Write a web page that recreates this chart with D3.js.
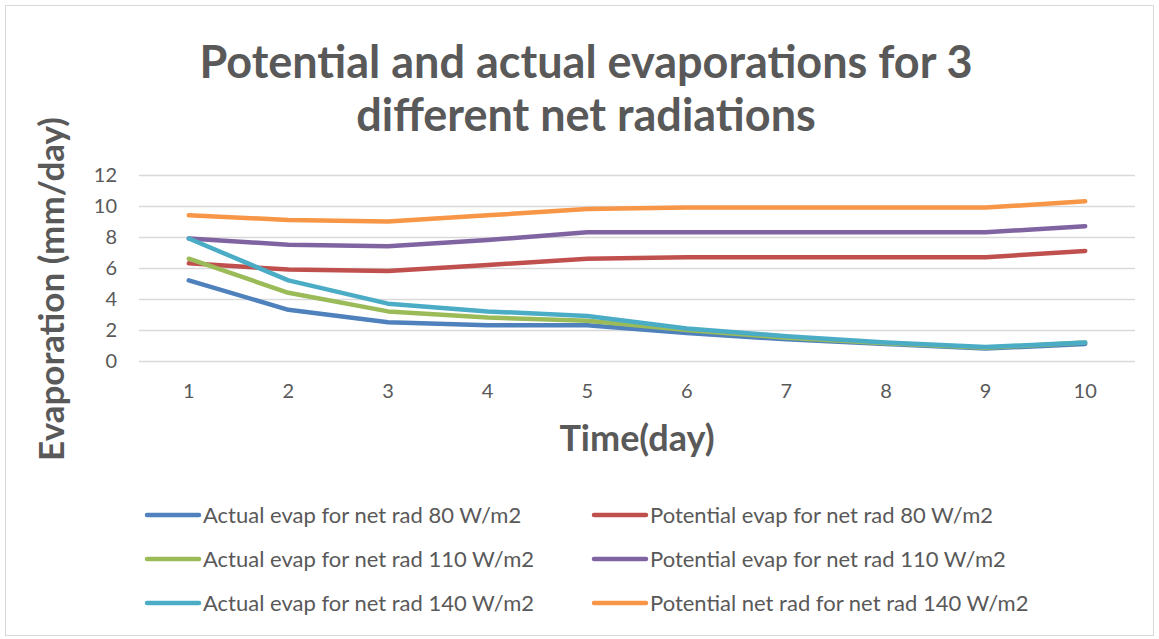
<!DOCTYPE html>
<html>
<head>
<meta charset="utf-8">
<script src="https://cdn.jsdelivr.net/npm/d3@7"></script>
<style>
  body { margin: 0; background: #fff; }
  text { font-family: Lato, "Open Sans", sans-serif; fill: #595959; }
</style>
</head>
<body>
<svg width="1159" height="639"></svg>
<script>
var svg = d3.select('svg');

// Data
var days = [1, 2, 3, 4, 5, 6, 7, 8, 9, 10];
var yTicks = [0, 2, 4, 6, 8, 10, 12];
var seriesNames = [
    'Actual evap for net rad 80 W/m2',
    'Potential evap for net rad 80 W/m2',
    'Actual evap for net rad 110 W/m2',
    'Potential evap for net rad 110 W/m2',
    'Actual evap for net rad 140 W/m2',
    'Potential net rad for net rad 140 W/m2'
];
var actual80 = [5.2, 3.3, 2.5, 2.3, 2.3, 1.8, 1.4, 1.1, 0.8, 1.1];
var potential80 = [6.3, 5.9, 5.8, 6.2, 6.6, 6.7, 6.7, 6.7, 6.7, 7.1];
var actual110 = [6.6, 4.4, 3.2, 2.8, 2.6, 2.0, 1.5, 1.15, 0.85, 1.2];
var potential110 = [7.9, 7.5, 7.4, 7.8, 8.3, 8.3, 8.3, 8.3, 8.3, 8.7];
var actual140 = [7.9, 5.2, 3.7, 3.2, 2.9, 2.1, 1.6, 1.2, 0.9, 1.2];
var potential140 = [9.4, 9.1, 9.0, 9.4, 9.8, 9.9, 9.9, 9.9, 9.9, 10.3];
var seriesValues = [actual80, potential80, actual110, potential110, actual140, potential140];
var colors = ['#4f81bd', '#c0504d', '#9bbb59', '#8064a2', '#4bacc6', '#f79646'];

// Layout
var plot = {l: 139, r: 1135, t: 175, b: 361};

// chart border
svg.append('rect')
    .attr('x', 5.5).attr('y', 5.5)
    .attr('width', 1148).attr('height', 630)
    .attr('fill', '#fff')
    .attr('stroke', '#d9d9d9');

var xScale = d3.scaleBand().domain(days).range([plot.l, plot.r]);
var yScale = d3.scaleLinear().domain([0, 12]).range([plot.b, plot.t]);

// gridlines
var yAxis = d3.axisLeft(yScale).tickValues(yTicks)
    .tickSize(-(plot.r - plot.l)).tickPadding(22);
var yG = svg.append('g')
    .attr('transform', 'translate(' + plot.l + ',0)')
    .call(yAxis);
yG.select('.domain').remove();
yG.selectAll('line').attr('stroke', '#d9d9d9').attr('stroke-width', 1.3);
yG.selectAll('text').style('font-size', '20px').attr('fill', '#595959');

var xAxis = d3.axisBottom(xScale).tickSize(0).tickPadding(23);
var xG = svg.append('g')
    .attr('transform', 'translate(0,' + plot.b + ')')
    .call(xAxis);
xG.select('.domain').remove();
xG.selectAll('text').style('font-size', '20px').attr('fill', '#595959');

// lines
var line = d3.line()
    .x(function(d, i) { return xScale(days[i]) + xScale.bandwidth() / 2; })
    .y(function(d) { return yScale(d); });

svg.selectAll('.series')
    .data(seriesValues)
    .enter()
    .append('path')
    .attr('class', 'series')
    .attr('d', line)
    .attr('fill', 'none')
    .attr('stroke', function(d, i) { return colors[i]; })
    .attr('stroke-width', 4.5)
    .attr('stroke-linecap', 'round')
    .attr('stroke-linejoin', 'round');

// title
var title = svg.append('text')
    .attr('text-anchor', 'middle')
    .style('font-size', '45px')
    .style('font-weight', 'bold');
title.append('tspan').attr('x', 586).attr('y', 78).text('Potential and actual evaporations for 3');
title.append('tspan').attr('x', 586).attr('y', 131).text('different net radiations');

// axis titles
svg.append('text')
    .attr('x', 637).attr('y', 451)
    .attr('text-anchor', 'middle')
    .style('font-size', '36px')
    .style('font-weight', 'bold')
    .text('Time(day)');

svg.append('text')
    .attr('transform', 'translate(64,289)rotate(-90)')
    .attr('text-anchor', 'middle')
    .style('font-size', '35px')
    .style('font-weight', 'bold')
    .text('Evaporation (mm/day)');

// legend
var legend = svg.selectAll('.legend')
    .data(seriesNames)
    .enter()
    .append('g')
    .attr('class', 'legend')
    .attr('transform', function(d, i) {
        var col = i % 2, row = Math.floor(i / 2);
        return 'translate(' + [col === 0 ? 147 : 594, 515 + row * 44] + ')';
    });

legend.append('line')
    .attr('x1', 0).attr('x2', 52)
    .attr('stroke', function(d, i) { return colors[i]; })
    .attr('stroke-width', 4.5)
    .attr('stroke-linecap', 'round');

legend.append('text')
    .attr('x', 56).attr('y', 8)
    .style('font-size', '22px')
    .text(function(d) { return d; });
</script>
</body>
</html>
